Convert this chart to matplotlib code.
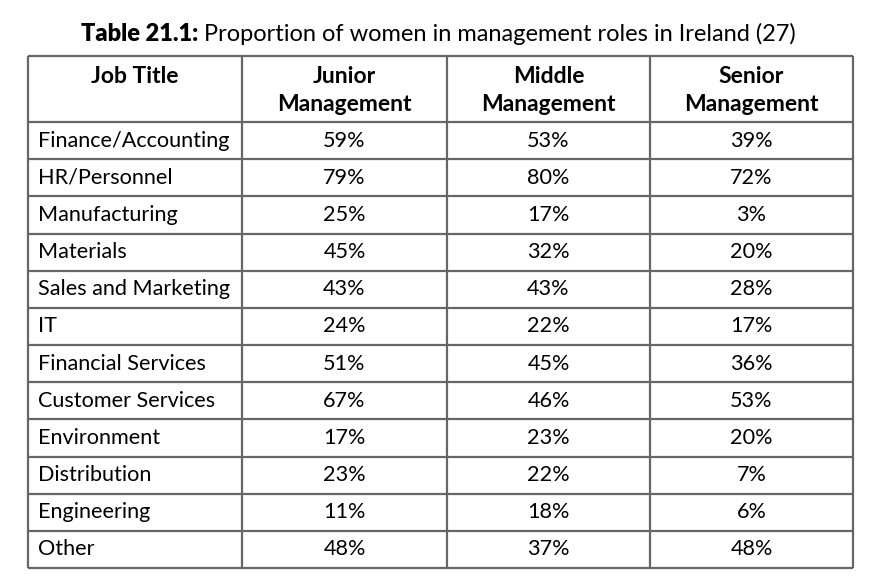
import numpy as np
import matplotlib.pyplot as plt

# Data
title_bold = "Table 21.1:"
title_rest = " Proportion of women in management roles in Ireland (27)"
headers = ["Job Title", "Junior\nManagement", "Middle\nManagement", "Senior\nManagement"]
jobs = ["Finance/Accounting", "HR/Personnel", "Manufacturing", "Materials",
        "Sales and Marketing", "IT", "Financial Services", "Customer Services",
        "Environment", "Distribution", "Engineering", "Other"]
junior = [59, 79, 25, 45, 43, 24, 51, 67, 17, 23, 11, 48]
middle = [53, 80, 17, 32, 43, 22, 45, 46, 23, 22, 18, 37]
senior = [39, 72, 3, 20, 28, 17, 36, 53, 20, 7, 6, 48]

plt.rcParams['font.family'] = ['Lato', 'DejaVu Sans']

W, H = 871, 586
fig = plt.figure(figsize=(W / 100, H / 100), dpi=100)
ax = fig.add_axes([0, 0, 1, 1])
ax.set_xlim(0, W)
ax.set_ylim(H, 0)
ax.axis("off")

# layout (pixels)
col_x = [28, 242, 447, 650, 853]
top = 56
head_bot = 122
row_h = (568 - head_bot) / len(jobs)
row_y = [head_bot + i * row_h for i in range(len(jobs) + 1)]
line_c = "#666666"
fs = 15.6

# grid
ax.hlines([top] + row_y, col_x[0], col_x[-1], color=line_c, lw=1.6)
ax.vlines(col_x, top, row_y[-1], color=line_c, lw=1.6)

# title
t1 = ax.text(0, 34, title_bold, fontsize=17, fontweight="heavy", va="center", ha="left")
t2 = ax.text(0, 34, title_rest, fontsize=17, va="center", ha="left")
fig.canvas.draw()
r = fig.canvas.get_renderer()
w1 = t1.get_window_extent(r).width
w2 = t2.get_window_extent(r).width
x0 = 438 - (w1 + w2) / 2
t1.set_x(x0)
t2.set_x(x0 + w1)

# header
for i, h in enumerate(headers):
    cx = (col_x[i] + col_x[i + 1]) / 2
    ax.text(cx, 66, h, fontsize=16.5, fontweight="bold", ha="center", va="top",
            linespacing=1.42)

# body
cols = [junior, middle, senior]
for j, job in enumerate(jobs):
    cy = (row_y[j] + row_y[j + 1]) / 2
    ax.text(38, cy, job, fontsize=fs, ha="left", va="center")
    for k, vals in enumerate(cols):
        cx = (col_x[k + 1] + col_x[k + 2]) / 2
        ax.text(cx, cy, f"{vals[j]}%", fontsize=fs, ha="center", va="center")

fig.savefig("out.png", dpi=100, facecolor="white")
